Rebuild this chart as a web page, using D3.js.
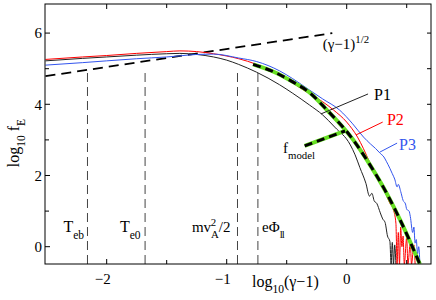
<!DOCTYPE html>
<html>
<head>
<meta charset="utf-8">
<script src="https://cdn.jsdelivr.net/npm/d3@7"></script>
<style>
body{margin:0;background:#fff}
text{font-family:"Liberation Serif","Times New Roman",serif;fill:#000}
</style>
</head>
<body>
<div id="chart"></div>
<script>
// spectra, log10(gamma-1) vs log10 fE
var p1X = [-2.51,-2.2,-2.0,-1.75,-1.5,-1.39,-1.25,-1.11,-1.0,-0.9,-0.75,-0.56,-0.45,-0.31,-0.2,-0.1,0.03,0.07,0.11,0.16,0.19,0.21,0.23,0.25,0.28,0.30,0.32,0.34,0.36,0.37,0.38,0.39,0.40,0.41]
var p1Y = [5.22,5.29,5.33,5.38,5.42,5.43,5.40,5.33,5.24,5.12,4.90,4.55,4.31,3.98,3.70,3.36,2.86,2.58,2.22,1.78,1.42,1.50,1.28,1.22,0.95,0.78,0.68,0.30,0.15,-0.49,0.12,-0.49,0.05,-0.49]

var p2X = [-2.51,-2.2,-2.0,-1.75,-1.5,-1.39,-1.25,-1.11,-0.9,-0.75,-0.56,-0.45,-0.36,-0.31,-0.2,-0.11,0.0,0.09,0.19,0.22,0.30,0.36,0.39,0.41,0.42,0.43,0.44,0.45,0.46,0.47,0.48,0.50,0.51,0.53,0.54,0.56,0.57]
var p2Y = [5.26,5.33,5.37,5.43,5.48,5.50,5.48,5.42,5.28,5.12,4.82,4.60,4.40,4.30,4.07,3.84,3.50,3.08,2.38,2.15,1.68,1.22,1.03,0.66,-0.49,0.40,-0.49,0.55,0.0,0.30,-0.49,0.25,-0.49,0.10,-0.49,0.05,-0.49]

var p3X = [-2.51,-2.2,-2.0,-1.75,-1.5,-1.39,-1.25,-1.11,-0.9,-0.75,-0.56,-0.45,-0.31,-0.2,-0.06,0.05,0.14,0.20,0.24,0.28,0.31,0.33,0.36,0.38,0.40,0.42,0.43,0.45,0.47,0.49,0.50,0.52,0.53,0.55,0.56,0.57,0.58,0.59,0.60,0.61]
var p3Y = [5.10,5.17,5.22,5.28,5.33,5.36,5.40,5.41,5.30,5.20,4.94,4.72,4.40,4.15,3.84,3.45,3.08,2.88,2.76,2.62,2.52,2.40,2.20,2.05,1.90,1.68,1.75,1.55,1.30,1.20,1.05,1.00,0.85,0.40,0.55,0.10,0.20,-0.20,0.00,-0.49]

var modelX = [-0.78,-0.6,-0.45,-0.31,-0.17,0.05,0.19,0.33,0.45,0.61]
var modelY = [5.12,4.90,4.63,4.33,3.86,3.02,2.32,1.52,0.72,-0.49]

var sqrtX = [-2.51,-0.12]
var sqrtY = [4.79,6.0]

var vlineX = [-2.16,-1.68,-0.91,-0.74]
var vlineTop = 4.93

var xMajor = [-2,-1,0]
var xMinor = [-1.5,-0.5,0.5]
var yMajor = [0,2,4,6]
var yMinor = [1,3,5]

var w = 436
var h = 300
var padL = 45, padT = 4, pw = 386, ph = 260

var svg = d3.select("#chart").append("svg").attr("width",w).attr("height",h)

var x = d3.scaleLinear().domain([-2.514,0.7025]).range([0,pw])
var y = d3.scaleLinear().domain([-0.486,6.817]).range([ph,0])

var g = svg.append("g").attr("transform","translate("+padL+","+padT+")")

g.append("clipPath").attr("id","clip").append("rect").attr("width",pw).attr("height",ph)

function pairs(xs,ys){ return xs.map(function(v,i){ return [v,ys[i]] }) }

var line = d3.line().x(function(d){return x(d[0])}).y(function(d){return y(d[1])})
var smooth = d3.line().x(function(d){return x(d[0])}).y(function(d){return y(d[1])}).curve(d3.curveMonotoneX)

var plot = g.append("g").attr("clip-path","url(#clip)")

// vertical markers
plot.selectAll(".vline").data(vlineX).enter().append("line")
	.attr("x1",function(d){return x(d)}).attr("x2",function(d){return x(d)})
	.attr("y1",y(-0.486)).attr("y2",y(vlineTop))
	.attr("stroke","#444").attr("stroke-width",1).attr("stroke-dasharray","9,5")

// (gamma-1)^1/2
plot.append("path").attr("d",line(pairs(sqrtX,sqrtY)))
	.attr("fill","none").attr("stroke","#000").attr("stroke-width",1.8).attr("stroke-dasharray","10,6")

var series = [[p1X,p1Y,"#222"],[p2X,p2Y,"#ff0000"],[p3X,p3Y,"#3355ee"]]
series.forEach(function(s){
	plot.append("path").attr("d",smooth(pairs(s[0],s[1])))
		.attr("fill","none").attr("stroke",s[2]).attr("stroke-width",1)
})

// model: green under black dashes
plot.append("path").attr("d",smooth(pairs(modelX,modelY)))
	.attr("fill","none").attr("stroke","#66e022").attr("stroke-width",4)
plot.append("path").attr("d",smooth(pairs(modelX,modelY)))
	.attr("fill","none").attr("stroke","#000").attr("stroke-width",3).attr("stroke-dasharray","8,5")

// pointers (data coords)
var pointers = [
	{from:[-0.214,3.73],to:[0.178,4.29],color:"#222",w:1},
	{from:[0.078,3.14],to:[0.30,3.50],color:"#ff0000",w:1},
	{from:[0.278,2.66],to:[0.42,2.91],color:"#3355ee",w:1}
]
pointers.forEach(function(p){
	g.append("line").attr("x1",x(p.from[0])).attr("y1",y(p.from[1]))
		.attr("x2",x(p.to[0])).attr("y2",y(p.to[1]))
		.attr("stroke",p.color).attr("stroke-width",p.w)
})
var fm = [[-0.35,2.83],[-0.014,3.25]]
g.append("path").attr("d",line(fm)).attr("stroke","#66e022").attr("stroke-width",4).attr("fill","none")
g.append("path").attr("d",line(fm)).attr("stroke","#000").attr("stroke-width",3).attr("stroke-dasharray","8,5").attr("fill","none")

// rich text helper: parts = [[text,"sub"|"sup"|null,dx]]
function rich(parent,px,py,parts,size,color,anchor){
	var t = parent.append("text").attr("x",px).attr("y",py).style("font-size",size+"px")
	if(color) t.style("fill",color)
	if(anchor) t.attr("text-anchor",anchor)
	var shift = 0
	parts.forEach(function(p){
		var target = p[1]=="sub" ? size*0.38 : p[1]=="sup" ? -size*0.42 : 0
		var ts = t.append("tspan").text(p[0]).attr("dy",target-shift)
			.style("font-size",(p[1] ? size*0.72 : size)+"px")
		if(color) ts.style("fill",color)
		if(p[2]) ts.attr("dx",p[2])
		shift = target
	})
	return t
}

rich(g,x(0.228),y(4.12),[["P1"]],16,"#000")
rich(g,x(0.335),y(3.42),[["P2"]],16,"#ff0000")
rich(g,x(0.436),y(2.72),[["P3"]],16,"#3355ee")
rich(g,x(-0.53),y(2.63),[["f"],["model","sub"]],15)
rich(g,x(-0.20),y(5.55),[["(γ\u22121)"],["1/2","sup"]],15)

var labY = 0.40
rich(g,x(-2.36),y(labY),[["T"],["eb","sub"]],16)
rich(g,x(-1.89),y(labY),[["T"],["e0","sub"]],16)
rich(g,x(-1.29),y(labY),[["mv"],["A","sub"],["2","sup",-8],["/2",null,2.5]],15)
rich(g,x(-0.705),y(labY),[["eΦ"],["l","sub"],["l",null,-1]],15)
  .selectAll("tspan").filter(function(d,i){return i==2}).attr("dy",0).style("font-size","10.8px")

// frame
g.append("rect").attr("width",pw).attr("height",ph).attr("fill","none").attr("stroke","#000").attr("stroke-width",1)

function ticks(vals,len,side){
	vals.forEach(function(v){
		if(side=="bottom") g.append("line").attr("x1",x(v)).attr("x2",x(v)).attr("y1",ph).attr("y2",ph-len).attr("stroke","#000")
		if(side=="top") g.append("line").attr("x1",x(v)).attr("x2",x(v)).attr("y1",0).attr("y2",len).attr("stroke","#000")
		if(side=="left") g.append("line").attr("y1",y(v)).attr("y2",y(v)).attr("x1",0).attr("x2",len).attr("stroke","#000")
		if(side=="right") g.append("line").attr("y1",y(v)).attr("y2",y(v)).attr("x1",pw).attr("x2",pw-len).attr("stroke","#000")
	})
}
ticks(xMajor,5,"bottom"); ticks(xMinor,4,"bottom")
ticks(xMajor,5,"top"); ticks(xMinor,4,"top")
ticks(yMajor,5,"left"); ticks(yMinor,4,"left")
ticks(yMajor,4,"right"); ticks(yMinor,4,"right")

g.selectAll(".xl").data(xMajor).enter().append("text")
	.attr("x",function(d){return x(d)+(d<0?-4:0)}).attr("y",ph+20)
	.attr("text-anchor","middle").style("font-size","15px")
	.text(function(d){return d<0 ? "\u2212"+Math.abs(d) : d})
g.selectAll(".yl").data(yMajor).enter().append("text")
	.attr("x",-3).attr("y",function(d){return y(d)}).attr("dy","0.35em")
	.attr("text-anchor","end").style("font-size","15px")
	.text(function(d){return d})

// axis titles
rich(svg,252,287,[["log"],["10","sub"],["(γ\u22121)"]],16)
var yt = svg.append("g").attr("transform","translate(19,143) rotate(-90)")
rich(yt,0,0,[["log"],["10","sub"],[" f"],["E","sub"]],16,null,"middle")
</script>
</body>
</html>
